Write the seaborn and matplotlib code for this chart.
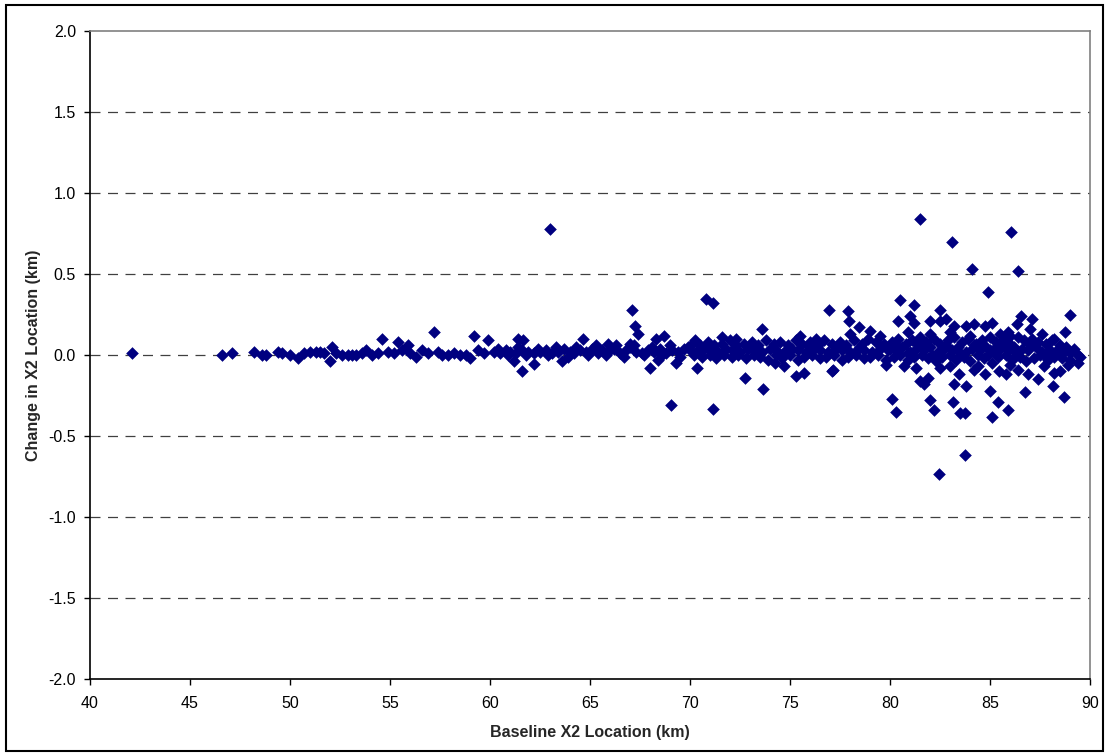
import numpy as np
import pandas as pd
import matplotlib.pyplot as plt
from matplotlib.patches import Rectangle
from matplotlib.ticker import MultipleLocator, FormatStrFormatter
import seaborn as sns

# --- data: (baseline X2 km, change in X2 km) ---
west = [(42.1, 0.01), (46.6, 0.0), (47.1, 0.01), (48.2, 0.02), (48.6, 0.0), (48.8, 0.0),
        (49.4, 0.02), (49.6, 0.01), (50.0, 0.0), (50.4, -0.02), (50.7, 0.01), (51.0, 0.02),
        (51.3, 0.02), (51.5, 0.02), (51.7, 0.01), (52.0, -0.04), (52.1, 0.05), (52.3, 0.01),
        (52.6, 0.0), (52.9, 0.0), (53.1, 0.0), (53.3, 0.0), (53.6, 0.01), (53.8, 0.03),
        (54.1, 0.0), (54.4, 0.01), (54.6, 0.10), (54.9, 0.02), (55.2, 0.01), (55.4, 0.08),
        (55.6, 0.03), (55.9, 0.06), (56.0, 0.01), (56.3, -0.01), (56.6, 0.03), (56.9, 0.01),
        (57.2, 0.14), (57.4, 0.02), (57.6, 0.0), (57.9, 0.0), (58.2, 0.01), (58.5, 0.0),
        (58.8, 0.0), (59.0, -0.02), (59.2, 0.12), (59.4, 0.03), (59.7, 0.01), (59.9, 0.09)]

mid_band = [(60.2, 0.02), (60.5, 0.01), (60.8, 0.03), (61.0, 0.02), (61.3, 0.01), (61.6, 0.03),
            (61.9, 0.02), (62.2, 0.01), (62.5, 0.02), (62.8, 0.03), (63.1, 0.01), (63.4, 0.02),
            (63.7, 0.04), (64.0, 0.02), (64.2, 0.01), (64.5, 0.03), (64.8, 0.02), (65.1, 0.04),
            (65.4, 0.01), (65.6, 0.03), (65.9, 0.02), (66.2, 0.04), (66.5, 0.01), (66.8, 0.03),
            (67.0, 0.05), (67.3, 0.02), (67.6, 0.01), (67.9, 0.03), (68.2, 0.02), (68.5, 0.04),
            (68.8, 0.01), (69.1, 0.03), (69.4, 0.02), (69.7, 0.04),
            (60.4, 0.04), (60.9, 0.00), (61.4, 0.05), (61.8, 0.00), (62.4, 0.04), (62.9, 0.00),
            (63.3, 0.05), (63.9, -0.01), (64.3, 0.05), (64.9, 0.00), (65.3, 0.06), (65.8, 0.00),
            (66.3, 0.06), (66.7, -0.01), (67.2, 0.06), (67.7, 0.00), (68.1, 0.05), (68.6, 0.00),
            (69.0, 0.06), (69.5, -0.01), (69.9, 0.05)]

east_upper = [(70.1, 0.07), (70.5, 0.06), (70.9, 0.08), (71.2, 0.06), (71.6, 0.07), (72.0, 0.09),
              (72.3, 0.06), (72.7, 0.07), (73.1, 0.08), (73.4, 0.06), (73.8, 0.09), (74.2, 0.07),
              (74.5, 0.08), (74.9, 0.06), (75.3, 0.09), (75.6, 0.07), (76.0, 0.08), (76.4, 0.06),
              (76.7, 0.09), (77.1, 0.07), (77.5, 0.08), (77.8, 0.06), (78.2, 0.09), (78.6, 0.07),
              (78.9, 0.10), (79.3, 0.08), (79.7, 0.07),
              (80.1, 0.08), (80.4, 0.10), (80.8, 0.07), (81.1, 0.09), (81.5, 0.11), (81.8, 0.08),
              (82.2, 0.10), (82.5, 0.07), (82.9, 0.09), (83.2, 0.11), (83.6, 0.08), (83.9, 0.10),
              (84.3, 0.07), (84.6, 0.09), (85.0, 0.11), (85.3, 0.08), (85.7, 0.10), (86.0, 0.07),
              (86.4, 0.11), (86.7, 0.09), (87.1, 0.10), (87.4, 0.08), (87.8, 0.07), (88.1, 0.09),
              (88.5, 0.06), (88.8, 0.05), (89.2, 0.04)]

east_mid = [(70.0, 0.03), (70.3, 0.02), (70.7, 0.04), (71.0, 0.03), (71.4, 0.02), (71.8, 0.04),
            (72.1, 0.03), (72.5, 0.02), (72.9, 0.04), (73.2, 0.03), (73.6, 0.02), (74.0, 0.04),
            (74.3, 0.03), (74.7, 0.02), (75.1, 0.04), (75.4, 0.03), (75.8, 0.02), (76.2, 0.04),
            (76.5, 0.03), (76.9, 0.02), (77.3, 0.04), (77.6, 0.03), (78.0, 0.02), (78.4, 0.04),
            (78.7, 0.03), (79.1, 0.02), (79.5, 0.04), (79.9, 0.03),
            (80.0, 0.04), (80.3, 0.03), (80.6, 0.05), (81.0, 0.02), (81.3, 0.04), (81.7, 0.03),
            (82.0, 0.05), (82.4, 0.02), (82.7, 0.04), (83.1, 0.03), (83.4, 0.05), (83.8, 0.02),
            (84.1, 0.04), (84.5, 0.03), (84.8, 0.05), (85.2, 0.02), (85.5, 0.04), (85.9, 0.03),
            (86.2, 0.05), (86.6, 0.04), (86.9, 0.03), (87.3, 0.05), (87.6, 0.02), (88.0, 0.03),
            (88.3, 0.01), (88.7, 0.02), (89.0, 0.01), (89.4, 0.00)]

east_lower = [(70.2, 0.00), (70.6, -0.01), (71.0, 0.00), (71.3, -0.02), (71.7, 0.00), (72.1, -0.01),
              (72.4, 0.00), (72.8, -0.02), (73.2, 0.00), (73.5, -0.01), (73.9, -0.03), (74.3, 0.00),
              (74.6, -0.02), (75.0, 0.00), (75.4, -0.03), (75.7, -0.01), (76.1, 0.00), (76.5, -0.02),
              (76.8, -0.01), (77.2, 0.00), (77.6, -0.03), (77.9, -0.01), (78.3, 0.00), (78.7, -0.02),
              (79.0, -0.01), (79.4, 0.00), (79.8, -0.03),
              (80.2, -0.01), (80.5, 0.00), (80.9, -0.03), (81.2, -0.01), (81.6, 0.00), (81.9, -0.02),
              (82.3, -0.04), (82.6, -0.01), (83.0, 0.00), (83.3, -0.03), (83.7, -0.01), (84.0, -0.04),
              (84.4, 0.00), (84.7, -0.02), (85.1, -0.05), (85.4, -0.01), (85.8, 0.00), (86.1, -0.03),
              (86.5, -0.01), (86.8, -0.04), (87.2, -0.02), (87.5, 0.00), (87.9, -0.03), (88.2, -0.01),
              (88.6, -0.02), (89.0, -0.03), (89.5, -0.01)]

# extra fill for the thickest part of the band, 80-88 km
east_fill = [(80.3, 0.06), (80.9, 0.01), (81.4, 0.06), (82.1, 0.00), (82.8, 0.06), (83.5, 0.01),
             (84.2, 0.06), (84.9, 0.00), (85.6, 0.06), (85.0, 0.03), (85.3, 0.05), (86.3, 0.01),
             (87.0, 0.06), (87.7, 0.00), (88.4, 0.04), (76.0, 0.05), (78.5, 0.05), (73.0, 0.05)]

scattered = [(61.4, 0.10), (61.65, 0.09), (61.2, -0.04), (61.6, -0.10), (62.2, -0.055),
             (63.6, -0.035), (64.65, 0.10), (65.9, 0.07), (67.0, 0.07),
             (63.0, 0.78), (67.1, 0.28), (67.25, 0.18), (67.4, 0.13), (68.0, -0.08), (68.3, 0.10),
             (68.4, -0.03), (68.7, 0.12), (69.05, -0.31), (69.3, -0.05), (70.25, 0.095),
             (70.35, -0.08), (70.8, 0.345), (71.15, 0.32), (71.15, -0.335), (71.6, 0.11),
             (72.3, 0.10), (72.75, -0.14), (73.6, 0.16), (73.65, -0.21), (74.25, -0.05),
             (74.7, -0.07), (75.3, -0.13), (75.5, 0.12), (75.7, -0.11), (76.3, 0.10),
             (76.95, 0.275), (77.1, -0.10), (77.15, -0.09), (77.9, 0.27), (77.95, 0.21),
             (78.45, 0.17), (79.0, 0.15), (78.0, 0.13), (79.5, 0.12), (79.8, -0.06),
             (80.1, -0.27), (80.3, -0.35), (80.4, 0.21), (80.5, 0.34), (80.7, -0.07),
             (80.9, 0.14), (81.0, 0.24), (81.2, 0.31), (81.2, 0.20), (81.3, -0.08),
             (81.5, 0.84), (81.5, -0.16), (81.7, -0.18), (81.9, -0.14), (82.0, 0.21),
             (82.0, 0.13), (82.0, -0.28), (82.2, -0.34), (82.45, -0.735), (82.5, 0.21),
             (82.5, 0.28), (82.5, -0.08), (82.8, 0.22), (83.0, 0.14), (83.0, -0.07),
             (83.1, 0.70), (83.2, 0.18), (83.2, -0.18), (83.15, -0.29), (83.5, -0.36),
             (83.45, -0.12), (83.75, -0.36), (83.8, 0.18), (83.8, -0.19), (83.75, -0.62),
             (84.0, 0.12), (84.1, 0.53), (84.2, 0.19), (84.2, -0.09), (84.4, -0.07),
             (84.75, 0.18), (84.75, -0.12), (84.9, 0.39), (85.0, -0.22), (85.1, 0.20),
             (85.1, -0.385), (85.4, -0.29), (85.45, -0.10), (85.5, 0.13), (85.8, -0.12),
             (85.9, 0.14), (85.9, -0.34), (86.0, 0.12), (86.0, -0.06), (86.05, 0.76),
             (86.35, 0.19), (86.4, 0.52), (86.4, -0.09), (86.55, 0.24), (86.75, -0.23),
             (86.9, -0.12), (87.0, 0.16), (87.1, 0.225), (87.4, -0.145), (87.6, 0.13),
             (87.7, -0.07), (88.15, -0.19), (88.2, 0.10), (88.2, -0.11), (88.5, -0.10),
             (88.7, -0.26), (88.75, 0.14), (88.9, -0.06), (89.0, 0.25), (89.4, -0.05)]

df = pd.DataFrame(west + mid_band + east_upper + east_mid + east_lower + east_fill + scattered,
                  columns=['baseline', 'change'])

# --- style ---
sns.set_style('white')
plt.rcParams['font.family'] = ['Liberation Sans', 'DejaVu Sans']
plt.rcParams['font.size'] = 11.5

fig = plt.figure(figsize=(11.05, 7.56), dpi=100)
ax = fig.add_axes([0.0814, 0.1019, 0.905, 0.857])

for yv in np.arange(-1.5, 2.0, 0.5):
    ax.axhline(yv, color='#404040', lw=0.9, ls=(0, (8, 6)), zorder=0)

sns.scatterplot(data=df, x='baseline', y='change', marker='D', color='#000080',
                edgecolor='#000080', linewidth=0.4, s=36, ax=ax, zorder=3, legend=False)

ax.set_xlim(40, 90)
ax.set_ylim(-2.0, 2.0)
ax.xaxis.set_major_locator(MultipleLocator(5))
ax.yaxis.set_major_locator(MultipleLocator(0.5))
ax.yaxis.set_major_formatter(FormatStrFormatter('%.1f'))
ax.tick_params(direction='out', length=4, width=1, colors='black', labelsize=11.5,
               bottom=True, left=True)
ax.tick_params(axis='x', pad=8)
ax.tick_params(axis='y', pad=6)

for side in ['left', 'bottom']:
    ax.spines[side].set_color('black')
    ax.spines[side].set_linewidth(1.2)
for side in ['top', 'right']:
    ax.spines[side].set_color('#808080')
    ax.spines[side].set_linewidth(1.2)

ax.set_xlabel('Baseline X2 Location (km)', fontweight='bold', fontsize=11.5, labelpad=10)
ax.set_ylabel('Change in X2 Location (km)', fontweight='bold', fontsize=11.5, labelpad=5)

# outer chart border
fig.patches.append(Rectangle((0.0055, 0.006), 0.993, 0.987, transform=fig.transFigure,
                             fill=False, edgecolor='black', linewidth=1.5))

fig.savefig('out.png', dpi=100, facecolor='white')
